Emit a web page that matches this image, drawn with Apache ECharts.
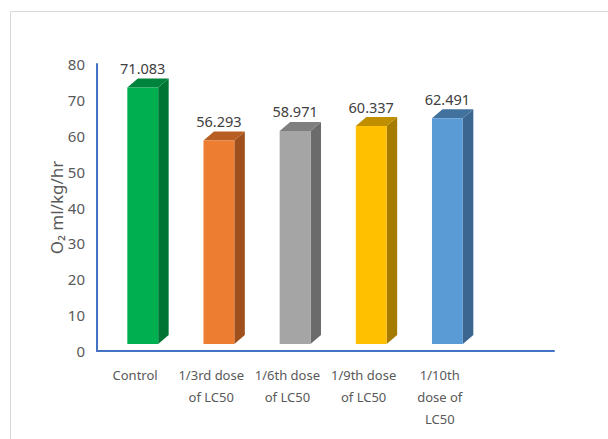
<!DOCTYPE html>
<html><head><meta charset="utf-8">
<script src="https://cdn.jsdelivr.net/npm/echarts@6/dist/echarts.min.js"></script>
<style>html,body{margin:0;padding:0;background:#fff}#c{width:608px;height:439px}</style>
</head><body><div id="c"></div>
<script>
var categories = ['Control', '1/3rd dose\nof LC50', '1/6th dose\nof LC50', '1/9th dose\nof LC50', '1/10th\ndose of\nLC50', ''];
var values = [71.083, 56.293, 58.971, 60.337, 62.491];
var frontColors = ['#00B050', '#ED7D31', '#A5A5A5', '#FFC000', '#5B9BD5'];
var sideColors = ['#007533', '#A0501C', '#6B6B6B', '#A67C00', '#3B6690'];
var topColors = ['#00843D', '#B85E22', '#7F7F7F', '#BF8F00', '#41729E'];
var yTicks = [0, 10, 20, 30, 40, 50, 60, 70, 80];
var FONT = '"Noto Sans", "Liberation Sans", sans-serif';

var chart = echarts.init(document.getElementById('c'), null, {renderer: 'svg'});
chart.setOption({
  animation: false,
  graphic: [{type: 'rect', shape: {x: 10.5, y: 11.5, width: 640, height: 460}, style: {fill: 'none', stroke: '#d9d9d9', lineWidth: 1}}],
  grid: {left: 97, right: 54, top: 64, bottom: 88},
  xAxis: {
    type: 'category', data: categories,
    axisLine: {lineStyle: {color: '#4472C4', width: 2}},
    axisTick: {show: false},
    axisLabel: {interval: 0, color: '#595959', fontFamily: FONT, fontSize: 13, lineHeight: 22, margin: 13}
  },
  yAxis: {
    type: 'value', min: yTicks[0], max: yTicks[yTicks.length - 1], interval: 10,
    name: 'O\u2082 ml/kg/hr', nameLocation: 'middle', nameGap: 32, nameMoveOverlap: false,
    nameTextStyle: {color: '#595959', fontFamily: FONT, fontSize: 17},
    axisLine: {show: true, lineStyle: {color: '#4472C4', width: 2}},
    axisTick: {show: false},
    splitLine: {show: false},
    axisLabel: {color: '#595959', fontFamily: FONT, fontSize: 15, margin: 12}
  },
  series: [{
    type: 'custom',
    data: values.map(function (v, i) { return [i, v]; }),
    renderItem: function (params, api) {
      var i = api.value(0), v = api.value(1);
      var top = api.coord([i, v]);
      var base = api.coord([i, 0]);
      var band = api.size([1, 0])[0];
      var w = band * 0.405;
      var left = top[0] - band * 0.102;
      var right = left + w;
      var yT = top[1] - 8.5, yB = base[1] - 7;
      var dx = 10.5, dy = 9;
      return {
        type: 'group',
        children: [
          {type: 'polygon', shape: {points: [[right, yT], [right + dx, yT - dy], [right + dx, yB - dy], [right, yB]]}, style: {fill: sideColors[i]}},
          {type: 'polygon', shape: {points: [[left, yT], [left + dx, yT - dy], [right + dx, yT - dy], [right, yT]]}, style: {fill: topColors[i]}},
          {type: 'rect', shape: {x: left, y: yT, width: w, height: yB - yT}, style: {fill: frontColors[i]}},
          {type: 'text', style: {text: v.toFixed(3), x: left + w / 2, y: yT - dy - 3, textAlign: 'center', textVerticalAlign: 'bottom', fill: '#404040', font: '14.5px ' + FONT}}
        ]
      };
    }
  }]
});
</script></body></html>
